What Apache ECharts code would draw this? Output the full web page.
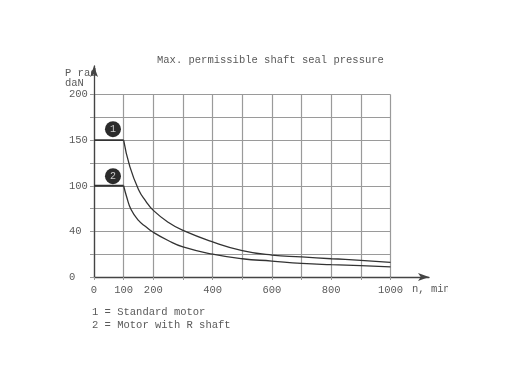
<!DOCTYPE html>
<html>
<head>
<meta charset="utf-8">
<style>html,body{margin:0;padding:0;background:#fff}#chart{width:512px;height:384px}</style>
<script src="https://cdn.jsdelivr.net/npm/echarts@6/dist/echarts.min.js"></script>
</head>
<body>
<div id="chart"></div>
<script>
const titleText = 'Max. permissible shaft seal pressure';
const legendLines = ['1 = Standard motor', '2 = Motor with R shaft'];
const yName = 'P rad\ndaN';
const xName = 'n, min';

// x tick labels, blank ones are unlabelled grid lines
const xTickValues = [0, 100, 200, 300, 400, 500, 600, 700, 800, 900, 1000];
const xTickLabels = ['0', '100', '200', '', '400', '', '600', '', '800', '', '1000'];

// the printed y scale is not linear: the 40 label sits halfway up to 100,
// so the axis runs in even steps of 25 and the labels are looked up
const yTickValues = [0, 25, 50, 75, 100, 125, 150, 175, 200];
const yTickLabels = ['0', '', '40', '', '100', '', '150', '', '200'];

// flat part of each curve, up to 100 rpm
const plateauRpm = [0, 100];
const plateau1 = [150, 150];
const plateau2 = [100, 100];

// falling part of each curve
const rpm1 = [100, 120, 150, 175, 200, 250, 300, 400, 500, 600, 700, 800, 900, 1000];
const motor1 = [150, 122, 96, 83, 73, 60, 51, 38.5, 29, 24, 22, 20, 18.3, 16];
const rpm2 = [100, 110, 125, 150, 175, 200, 250, 300, 400, 500, 600, 700, 800, 900, 1000];
const motor2 = [100, 88, 74, 62, 55, 49, 40, 33, 25, 20, 17.5, 15, 13.5, 12.4, 11];

const badgeX = [64, 64];
const badgeY = [162, 110.5];
const badgeText = ['1', '2'];

const font = '"Liberation Mono", monospace';
const ink = '#5a5a5a';
const gridColor = '#9a9a9a';

const chart = echarts.init(document.getElementById('chart'));

function line(xs, ys, width, smooth) {
    return {
        type: 'line',
        xAxisIndex: 0,
        yAxisIndex: 0,
        smooth: smooth,
        symbol: 'none',
        lineStyle: {color: '#333', width: width},
        data: xs.map((x, i) => [x, ys[i]]),
        z: 5,
    };
}

const arrowLine = {
    show: true,
    onZero: false,
    symbol: ['none', 'arrow'],
    symbolSize: [6, 11],
    lineStyle: {color: '#444', width: 1.3},
};

chart.setOption({
    animation: false,
    backgroundColor: '#fff',
    title: {
        text: titleText,
        left: 152,
        top: 50,
        textStyle: {fontFamily: font, fontSize: 10.5, fontWeight: 'normal', color: ink},
    },
    grid: [
        {left: 94, top: 94.5, width: 296.5, height: 182.5},
        // second grid only carries the arrowed axis lines, which overrun the plot
        {left: 94, top: 66, width: 335, height: 211},
    ],
    xAxis: [
        {
            type: 'value',
            gridIndex: 0,
            min: 0,
            max: 1000,
            interval: 100,
            axisLine: {show: false},
            axisTick: {show: true, length: 3, lineStyle: {color: gridColor, width: 1}},
            axisLabel: {
                margin: 8,
                fontFamily: font,
                fontSize: 10.5,
                color: ink,
                showMinLabel: true,
                showMaxLabel: true,
                formatter: (v) => xTickLabels[xTickValues.indexOf(v)],
            },
            splitLine: {show: true, lineStyle: {color: gridColor, width: 1.2}},
        },
        {
            type: 'value',
            gridIndex: 1,
            axisLine: arrowLine,
            axisTick: {show: false},
            axisLabel: {show: false},
            splitLine: {show: false},
        },
    ],
    yAxis: [
        {
            type: 'value',
            gridIndex: 0,
            min: 0,
            max: 200,
            interval: 25,
            axisLine: {show: false},
            axisTick: {show: true, length: 4, lineStyle: {color: gridColor, width: 1}},
            axisLabel: {
                align: 'left',
                margin: 25,
                fontFamily: font,
                fontSize: 10.5,
                color: ink,
                formatter: (v) => yTickLabels[yTickValues.indexOf(v)],
            },
            splitLine: {show: true, lineStyle: {color: gridColor, width: 1.2}},
        },
        {
            type: 'value',
            gridIndex: 1,
            axisLine: arrowLine,
            axisTick: {show: false},
            axisLabel: {show: false},
            splitLine: {show: false},
        },
    ],
    series: [
        line(plateauRpm, plateau1, 1.8, false),
        line(plateauRpm, plateau2, 1.8, false),
        line(rpm1, motor1, 1.3, 0.5),
        line(rpm2, motor2, 1.3, 0.5),
        {
            type: 'scatter',
            xAxisIndex: 0,
            yAxisIndex: 0,
            symbolSize: 16,
            itemStyle: {color: '#2b2b2b', opacity: 1},
            label: {
                show: true,
                position: 'inside',
                fontFamily: font,
                fontSize: 10,
                color: '#ccc',
                formatter: (p) => badgeText[p.dataIndex],
            },
            data: badgeX.map((x, i) => [x, badgeY[i]]),
            z: 6,
        },
    ],
    graphic: [
        {
            type: 'text',
            left: 65,
            top: 68,
            style: {text: yName, font: '10.5px ' + font, fill: ink, lineHeight: 9.5},
        },
        {
            type: 'text',
            left: 412,
            top: 284,
            style: {text: xName, font: '10.5px ' + font, fill: ink},
        },
        // the source scan is cropped through the unit label
        {
            type: 'rect',
            shape: {x: 448, y: 280, width: 30, height: 20},
            style: {fill: '#fff'},
            z: 200,
        },
        {
            type: 'text',
            left: 92,
            top: 306,
            style: {text: legendLines.join('\n'), font: '10.5px ' + font, fill: ink, lineHeight: 13},
        },
    ],
});
</script>
</body>
</html>
